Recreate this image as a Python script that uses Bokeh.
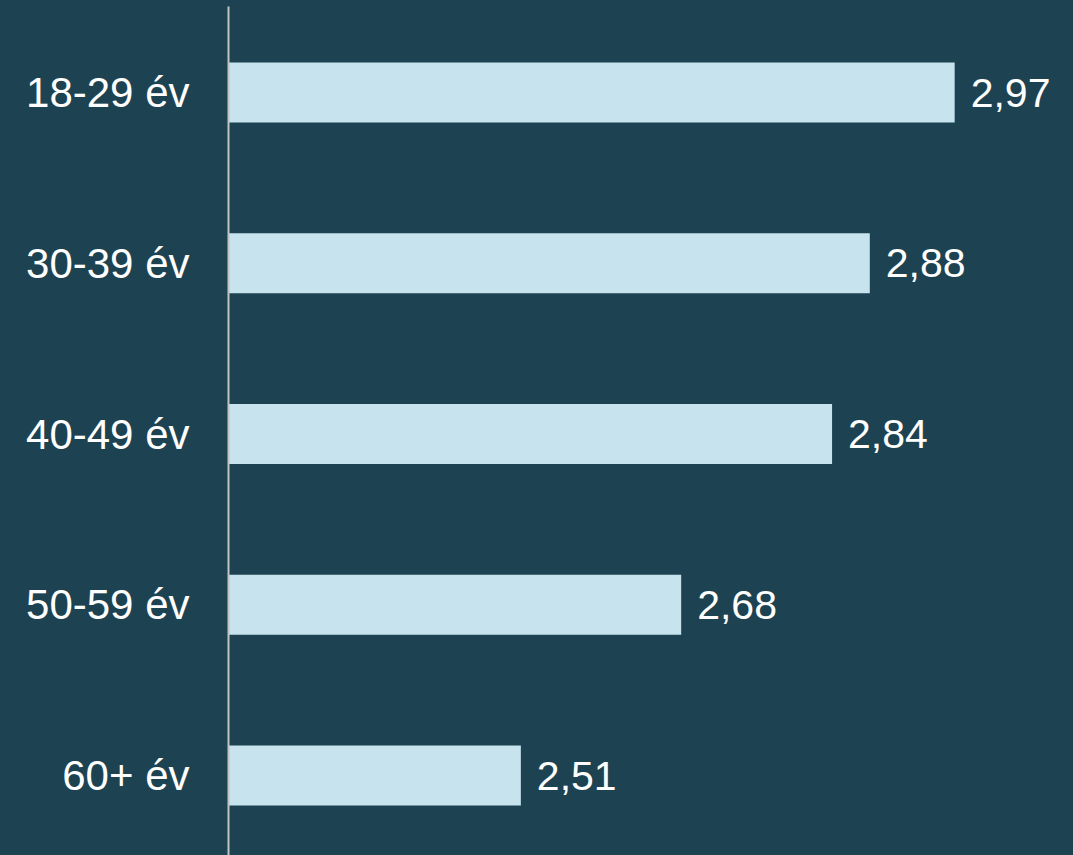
from bokeh.plotting import figure
from bokeh.models import Range1d, ColumnDataSource, FixedTicker
from bokeh.core.properties import value
from bokeh.embed import file_html
from bokeh.resources import INLINE

categories = ["18-29 év", "30-39 év", "40-49 év", "50-59 év", "60+ év"]
values = [2.97, 2.88, 2.84, 2.68, 2.51]
value_labels = ["2,97", "2,88", "2,84", "2,68", "2,51"]

BG = "#1d4352"
BAR = "#c6e3ee"
FONT = "Liberation Sans"

n = len(categories)
ypos = [n - 1 - i for i in range(n)]
x_start = 2.2

src = ColumnDataSource(dict(y=ypos, v=values, lbl=value_labels,
                            left=[x_start] * n))

p = figure(width=1073, height=855, output_backend="svg", toolbar_location=None,
           x_range=Range1d(x_start, 3.096), y_range=Range1d(-0.4685, 4.5037),
           background_fill_color=BG, border_fill_color=BG,
           min_border=0, min_border_left=228, min_border_top=6)
p.outline_line_color = None
p.grid.visible = False
p.xaxis.visible = False

p.hbar(y="y", left="left", right="v", height=0.3514, source=src,
       fill_color=BAR, line_color=None)
p.text(x="v", y="y", text="lbl", source=src, x_offset=16,
       text_baseline="middle", text_align="left",
       text_font=value(FONT), text_font_size="41px", text_color="white")

ya = p.yaxis[0]
ya.ticker = FixedTicker(ticks=ypos)
ya.major_label_overrides = {y: c for y, c in zip(ypos, categories)}
ya.major_label_text_font = FONT
ya.major_label_text_font_size = "42px"
ya.major_label_text_color = "white"
ya.major_label_standoff = 33
ya.major_tick_line_color = None
ya.minor_tick_line_color = None
ya.axis_line_color = "#c4c4c4"
ya.axis_line_width = 2

html = file_html(p, INLINE)
html = html.replace("</head>", "<style>html, body { background-color: %s; }</style></head>" % BG, 1)
open("out.html", "w").write(html)
